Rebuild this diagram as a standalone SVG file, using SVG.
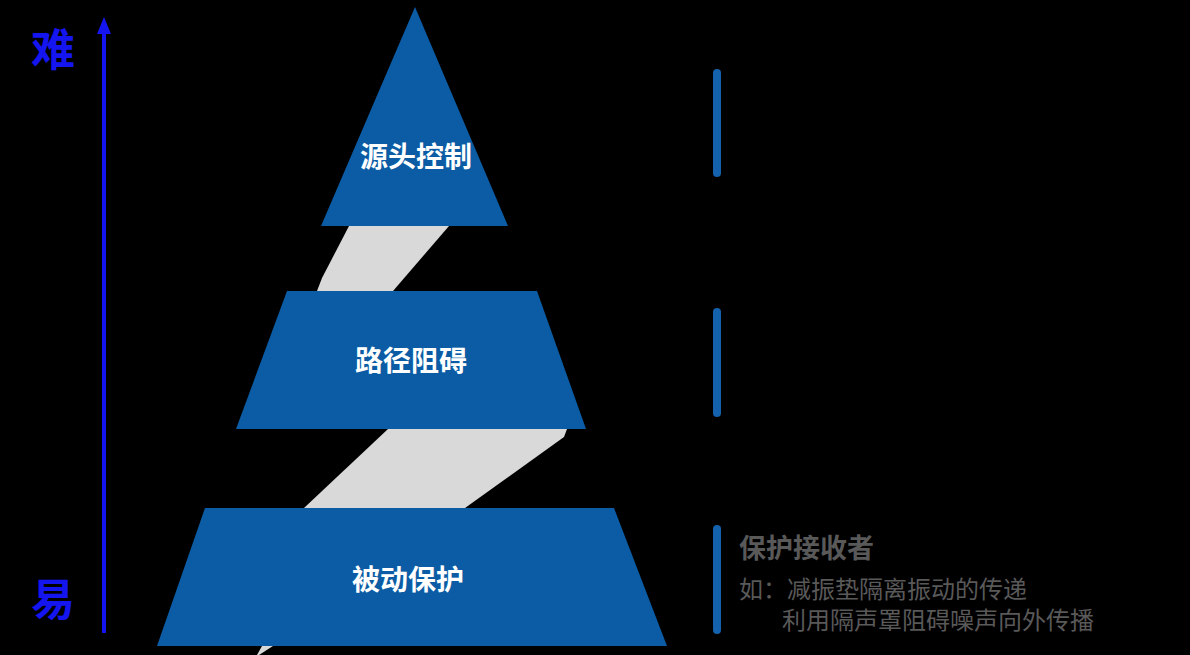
<svg xmlns="http://www.w3.org/2000/svg" width="1190" height="655" viewBox="0 0 1190 655">
<style>
.tier{fill:#0b5ca4}
.band{fill:#d9d9d9}
.lbl{font-family:"Noto Sans CJK SC","Noto Sans",sans-serif;font-size:28px;font-weight:bold;fill:#ffffff;text-anchor:middle}
.axis{font-family:"Noto Sans CJK SC",sans-serif;font-size:44px;font-weight:bold;fill:#1515f0;text-anchor:middle}
.bar{fill:#1462ae}
.head{font-family:"Noto Sans CJK SC",sans-serif;font-size:27px;font-weight:bold;fill:#595959}
.desc{font-family:"Noto Sans CJK SC",sans-serif;font-size:24px;fill:#595959}
</style>
<rect x="0" y="0" width="1190" height="655" fill="#000000"/>
<g id="bands">
<polygon class="band" points="349,226 449,226 393,291 317,291 322,278"/>
<polygon class="band" points="388,429 567,429 564,437 465,508 304,508"/>
<polygon class="band" points="262,646 273,646 259,655 257,655"/>
</g>
<g id="node-source">
<polygon class="tier" points="415,7 508,226 321,226"/>
<text class="lbl" x="416" y="167">源头控制</text>
</g>
<g id="node-path">
<polygon class="tier" points="287,291 537,291 586,429 236,429"/>
<text class="lbl" x="411" y="371">路径阻碍</text>
</g>
<g id="node-passive">
<polygon class="tier" points="205,508 614,508 667,646 157,646"/>
<text class="lbl" x="408" y="590">被动保护</text>
</g>
<g id="axis">
<line x1="104" y1="633" x2="104" y2="30" stroke="#1515f0" stroke-width="4"/>
<polygon points="104,17 111,34 97,34" fill="#1515f0"/>
<text class="axis" x="53" y="66">难</text>
<text class="axis" x="53" y="616">易</text>
</g>
<g id="bar1"><rect class="bar" x="713" y="69" width="8" height="108" rx="4"/></g>
<g id="bar2"><rect class="bar" x="713" y="308" width="8" height="109" rx="4"/></g>
<g id="desc3">
<rect class="bar" x="713" y="525" width="8" height="109" rx="4"/>
<text class="head" x="739" y="558">保护接收者</text>
<text class="desc" x="739" y="598">如：减振垫隔离振动的传递</text>
<text class="desc" x="782" y="629">利用隔声罩阻碍噪声向外传播</text>
</g>
</svg>
